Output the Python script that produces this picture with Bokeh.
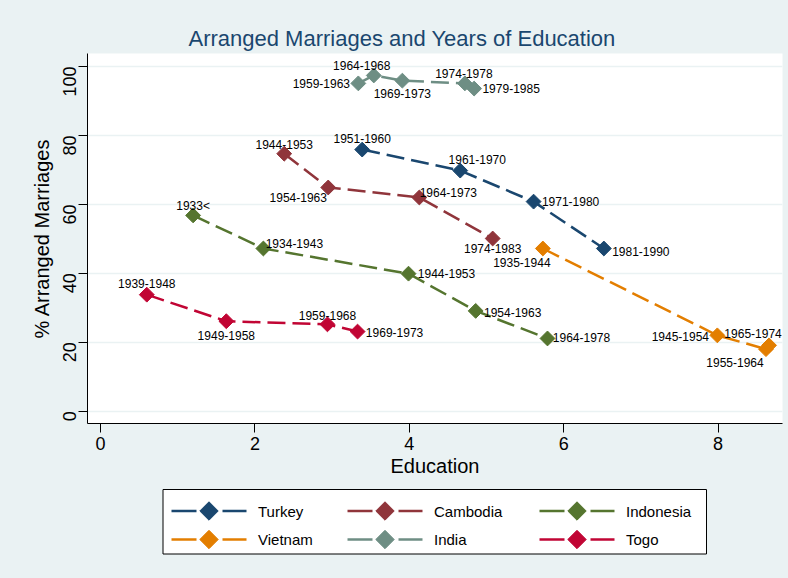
import math
from bokeh.plotting import figure
from bokeh.layouts import column
from bokeh.models import ColumnDataSource, Range1d, FixedTicker
from bokeh.embed import file_html
from bokeh.resources import INLINE
from bokeh.core.properties import value

FONT = "Liberation Sans"
BG = "#eaf2f3"

# ---------------- data ----------------
countries = ["Turkey", "Cambodia", "Indonesia", "Vietnam", "India", "Togo"]

turkey_periods = ["1951-1960", "1961-1970", "1971-1980", "1981-1990"]
turkey_education = [3.39, 4.66, 5.61, 6.52]
turkey_arranged = [75.9, 69.8, 60.8, 47.2]

cambodia_periods = ["1944-1953", "1954-1963", "1964-1973", "1974-1983"]
cambodia_education = [2.38, 2.95, 4.13, 5.08]
cambodia_arranged = [74.7, 64.9, 62.0, 50.1]

indonesia_periods = ["1933<", "1934-1943", "1944-1953", "1954-1963", "1964-1978"]
indonesia_education = [1.20, 2.11, 3.99, 4.86, 5.79]
indonesia_arranged = [56.8, 47.2, 39.9, 29.1, 21.1]

vietnam_periods = ["1935-1944", "1945-1954", "1955-1964", "1965-1974"]
vietnam_education = [5.73, 7.99, 8.62, 8.66]
vietnam_arranged = [47.2, 22.0, 18.0, 19.1]

india_periods = ["1959-1963", "1964-1968", "1969-1973", "1974-1978", "1979-1985"]
india_education = [3.34, 3.54, 3.91, 4.72, 4.84]
india_arranged = [95.1, 97.4, 95.9, 95.1, 93.6]

togo_periods = ["1939-1948", "1949-1958", "1959-1968", "1969-1973"]
togo_education = [0.60, 1.63, 2.94, 3.33]
togo_arranged = [33.8, 26.1, 25.2, 23.1]

x_ticks = [0, 2, 4, 6, 8]
y_ticks = [0, 20, 40, 60, 80, 100]

title_text = "Arranged Marriages and Years of Education"
x_title = "Education"
y_title = "% Arranged Marriages"

# ---------------- styles ----------------
colors = {
    "Turkey": "#1a476f",
    "Cambodia": "#90353b",
    "Indonesia": "#55752f",
    "Vietnam": "#e37e00",
    "India": "#6e8e84",
    "Togo": "#c10534",
}
# label placement (screen px offset of label centre from its marker)
label_offsets = {
    "Turkey": [(0, -11), (17, -11), (37, 0), (37, 3)],
    "Cambodia": [(0, -9), (-30, 10), (29, -5), (0, 10)],
    "Indonesia": [(0, -9), (31, -5), (38, 0), (37, 2), (34, -1)],
    "Vietnam": [(-21, 14), (-37, 1), (-31, 13), (-16, -12)],
    "India": [(-37, 0), (-12, -10), (0, 13), (-1, -10), (37, 0)],
    "Togo": [(0, -11), (0, 14), (0, -9), (37, 1)],
}

series = {
    "Turkey": (turkey_education, turkey_arranged, turkey_periods),
    "Cambodia": (cambodia_education, cambodia_arranged, cambodia_periods),
    "Indonesia": (indonesia_education, indonesia_arranged, indonesia_periods),
    "Vietnam": (vietnam_education, vietnam_arranged, vietnam_periods),
    "India": (india_education, india_arranged, india_periods),
    "Togo": (togo_education, togo_arranged, togo_periods),
}

W = 788
FRAME_L, FRAME_R = 87, 782

# ---------------- main figure ----------------
p = figure(width=W, height=488, output_backend="svg", toolbar_location=None,
           x_range=Range1d(-0.168, 8.834), y_range=Range1d(-3.57, 103.77),
           min_border_left=FRAME_L, min_border_right=W - FRAME_R, min_border_top=53,
           min_border_bottom=65)
p.background_fill_color = "white"
p.border_fill_color = BG
p.outline_line_color = None

p.title.text = title_text
p.title.text_font = FONT
p.title.text_font_size = "22px"
p.title.text_font_style = "normal"
p.title.text_color = "#1a476f"
p.title.align = "left"
p.title.offset = 101
p.title.standoff = 5

p.xgrid.grid_line_color = None
p.ygrid.ticker = FixedTicker(ticks=y_ticks)
p.ygrid.grid_line_color = BG
p.ygrid.grid_line_width = 1.5

p.xaxis.ticker = FixedTicker(ticks=x_ticks)
p.yaxis.ticker = FixedTicker(ticks=y_ticks)
p.xaxis.axis_label = x_title
p.yaxis.axis_label = y_title
for ax in (p.xaxis[0], p.yaxis[0]):
    ax.axis_line_color = "black"
    ax.axis_line_width = 1
    ax.major_tick_line_color = "black"
    ax.major_tick_out = 9
    ax.major_tick_in = 0
    ax.minor_tick_out = 0
    ax.minor_tick_in = 0
    ax.major_label_text_font = FONT
    ax.major_label_text_font_size = "18px"
    ax.major_label_text_color = "black"
    ax.axis_label_text_font = FONT
    ax.axis_label_text_font_size = "20px"
    ax.axis_label_text_font_style = "normal"
    ax.axis_label_text_color = "black"
p.xaxis.major_label_standoff = 4
p.xaxis.axis_label_standoff = 2
p.yaxis.major_label_standoff = 9
p.yaxis.axis_label_standoff = 1
p.yaxis.major_label_orientation = math.pi / 2

for name in countries:
    xs, ys, labels = series[name]
    offs = label_offsets[name]
    src = ColumnDataSource(dict(x=xs, y=ys, label=labels,
                                dx=[o[0] for o in offs], dy=[o[1] for o in offs]))
    c = colors[name]
    p.line("x", "y", source=src, line_color=c, line_width=2.5, line_dash="18 7")
    p.scatter("x", "y", source=src, marker="square", angle=math.pi / 4, size=10.5,
              fill_color=c, line_color=c)
    p.text("x", "y", text="label", source=src, x_offset="dx", y_offset="dy",
           text_align="center", text_baseline="middle",
           text_font=value(FONT), text_font_size="12px", text_color="black")

# ---------------- legend (own small canvas, page-like coords) ----------------
LEG_H = 90
LEG_TOP = 488
leg = figure(width=W, height=LEG_H, output_backend="svg", toolbar_location=None,
             x_range=Range1d(FRAME_L, FRAME_R), y_range=Range1d(LEG_TOP + LEG_H, LEG_TOP),
             min_border_left=FRAME_L, min_border_right=W - FRAME_R,
             min_border_top=0, min_border_bottom=0,
             x_axis_location=None, y_axis_location=None)
leg.background_fill_color = BG
leg.border_fill_color = BG
leg.outline_line_color = None
leg.grid.visible = False

box_left, box_right, box_top, box_bottom = 162.5, 706, 489, 553.5
leg.quad(left=[box_left], right=[box_right], top=[box_top], bottom=[box_bottom],
         fill_color="white", line_color="black", line_width=1)

legend_grid = [["Turkey", "Cambodia", "Indonesia"], ["Vietnam", "India", "Togo"]]
row_y = [510.5, 539]
col_x = [171, 347, 539]
glyph_w = 75
seg_x0, seg_x1, seg_y0, seg_y1, seg_c = [], [], [], [], []
mk_x, mk_y, mk_c, tx_x, tx_y, tx_t = [], [], [], [], [], []
for r, row in enumerate(legend_grid):
    for ci, name in enumerate(row):
        x0 = col_x[ci]
        y = row_y[r]
        for a, b in ((0, 25), (51, glyph_w)):
            seg_x0.append(x0 + a); seg_x1.append(x0 + b)
            seg_y0.append(y); seg_y1.append(y); seg_c.append(colors[name])
        mk_x.append(x0 + glyph_w / 2); mk_y.append(y); mk_c.append(colors[name])
        tx_x.append(x0 + 86.5); tx_y.append(y); tx_t.append(name)

leg.segment(x0=seg_x0, y0=seg_y0, x1=seg_x1, y1=seg_y1, line_color=seg_c, line_width=2.5)
leg.scatter(x=mk_x, y=mk_y, marker="square", angle=math.pi / 4, size=13,
            fill_color=mk_c, line_color=mk_c)
leg.text(x=tx_x, y=tx_y, text=tx_t, text_align="left", text_baseline="middle",
         text_font=value(FONT), text_font_size="15px", text_color="black")

layout = column(p, leg, spacing=0, styles={"background-color": BG})
open("out.html", "w").write(file_html(layout, INLINE))
